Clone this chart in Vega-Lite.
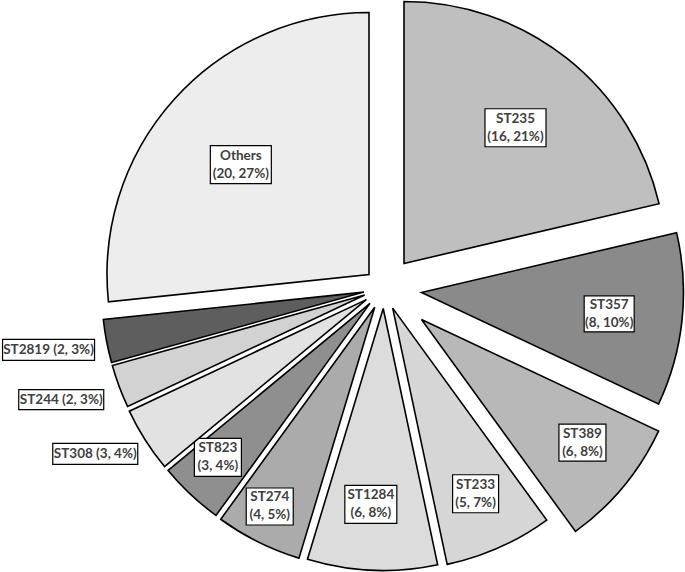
{
  "$schema": "https://vega.github.io/schema/vega-lite/v6.json",
  "autosize": {"type": "fit", "contains": "padding"},
  "width": 685,
  "height": 572,
  "padding": 0,
  "background": "white",
  "view": {"stroke": null},
  "data": {
    "values": [
      {"order": 1, "st": "ST235", "n": 16, "label": "ST235\n(16, 21%)"},
      {"order": 2, "st": "ST357", "n": 8, "label": "ST357\n(8, 10%)"},
      {"order": 3, "st": "ST389", "n": 6, "label": "ST389\n(6, 8%)"},
      {"order": 4, "st": "ST233", "n": 5, "label": "ST233\n(5, 7%)"},
      {"order": 5, "st": "ST1284", "n": 6, "label": "ST1284\n(6, 8%)"},
      {"order": 6, "st": "ST274", "n": 4, "label": "ST274\n(4, 5%)"},
      {"order": 7, "st": "ST823", "n": 3, "label": "ST823\n(3, 4%)"},
      {"order": 8, "st": "ST308", "n": 3, "label": "ST308 (3, 4%)"},
      {"order": 9, "st": "ST244", "n": 2, "label": "ST244 (2, 3%)"},
      {"order": 10, "st": "ST2819", "n": 2, "label": "ST2819 (2, 3%)"},
      {"order": 11, "st": "Others", "n": 20, "label": "Others\n(20, 27%)"}
    ]
  },
  "transform": [
    {"window": [{"op": "sum", "field": "n", "as": "end"}], "sort": [{"field": "order"}], "frame": [null, 0]},
    {"calculate": "datum.end - datum.n", "as": "start"},
    {"calculate": "(datum.start + datum.end) / 2", "as": "mid"}
  ],
  "layer": [
    {
      "transform": [
        {"filter": "datum.st === 'ST235'"},
        {"calculate": "177*sin(datum.mid*PI/37.5+0.016)", "as": "lx"},
        {"calculate": "177*cos(datum.mid*PI/37.5+0.016)", "as": "ly"}
      ],
      "layer": [
        {"mark": {"type": "arc", "radius": 262, "fill": "#bfbfbf", "stroke": "#000", "strokeWidth": 1.6, "xOffset": 61.5, "yOffset": -23},
         "encoding": {"theta": {"field": "start", "type": "quantitative", "scale": {"domain": [0, 75]}}, "theta2": {"field": "end"}}},
        {"mark": {"type": "point", "shape": "M-1,-0.623L1,-0.623L1,0.623L-1,0.623Z", "size": 3721, "filled": true, "fill": "#fff", "stroke": "#000", "strokeWidth": 1.2, "opacity": 1, "xOffset": 61.5, "yOffset": -23},
         "encoding": {"x": {"field": "lx", "type": "quantitative", "scale": {"domain": [-342.5, 342.5], "nice": false, "zero": false}, "axis": null}, "y": {"field": "ly", "type": "quantitative", "scale": {"domain": [-286, 286], "nice": false, "zero": false}, "axis": null}}},
        {"mark": {"type": "text", "font": "Lato", "fontWeight": "bold", "fontSize": 13.5, "lineHeight": 18, "lineBreak": "\n", "align": "center", "baseline": "middle", "dy": -9, "fill": "#404040", "xOffset": 61.5, "yOffset": -23},
         "encoding": {"x": {"field": "lx", "type": "quantitative", "scale": {"domain": [-342.5, 342.5], "nice": false, "zero": false}, "axis": null}, "y": {"field": "ly", "type": "quantitative", "scale": {"domain": [-286, 286], "nice": false, "zero": false}, "axis": null}, "text": {"field": "label"}}}
      ]
    },
    {
      "transform": [
        {"filter": "datum.st === 'ST357'"},
        {"calculate": "190*sin(datum.mid*PI/37.5+0.009)", "as": "lx"},
        {"calculate": "190*cos(datum.mid*PI/37.5+0.009)", "as": "ly"}
      ],
      "layer": [
        {"mark": {"type": "arc", "radius": 262, "fill": "#8a8a8a", "stroke": "#000", "strokeWidth": 1.6, "xOffset": 79, "yOffset": 6},
         "encoding": {"theta": {"field": "start", "type": "quantitative", "scale": {"domain": [0, 75]}}, "theta2": {"field": "end"}}},
        {"mark": {"type": "point", "shape": "M-1,-0.72L1,-0.72L1,0.72L-1,0.72Z", "size": 2500, "filled": true, "fill": "#fff", "stroke": "#000", "strokeWidth": 1.2, "opacity": 1, "xOffset": 79, "yOffset": 6},
         "encoding": {"x": {"field": "lx", "type": "quantitative", "scale": {"domain": [-342.5, 342.5], "nice": false, "zero": false}, "axis": null}, "y": {"field": "ly", "type": "quantitative", "scale": {"domain": [-286, 286], "nice": false, "zero": false}, "axis": null}}},
        {"mark": {"type": "text", "font": "Lato", "fontWeight": "bold", "fontSize": 13.5, "lineHeight": 18, "lineBreak": "\n", "align": "center", "baseline": "middle", "dy": -9, "fill": "#404040", "xOffset": 79, "yOffset": 6},
         "encoding": {"x": {"field": "lx", "type": "quantitative", "scale": {"domain": [-342.5, 342.5], "nice": false, "zero": false}, "axis": null}, "y": {"field": "ly", "type": "quantitative", "scale": {"domain": [-286, 286], "nice": false, "zero": false}, "axis": null}, "text": {"field": "label"}}}
      ]
    },
    {
      "transform": [
        {"filter": "datum.st === 'ST389'"},
        {"calculate": "204*sin(datum.mid*PI/37.5-0.037)", "as": "lx"},
        {"calculate": "204*cos(datum.mid*PI/37.5-0.037)", "as": "ly"}
      ],
      "layer": [
        {"mark": {"type": "arc", "radius": 262, "fill": "#b8b8b8", "stroke": "#000", "strokeWidth": 1.6, "xOffset": 79, "yOffset": 33},
         "encoding": {"theta": {"field": "start", "type": "quantitative", "scale": {"domain": [0, 75]}}, "theta2": {"field": "end"}}},
        {"mark": {"type": "point", "shape": "M-1,-0.787L1,-0.787L1,0.787L-1,0.787Z", "size": 2209, "filled": true, "fill": "#fff", "stroke": "#000", "strokeWidth": 1.2, "opacity": 1, "xOffset": 79, "yOffset": 33},
         "encoding": {"x": {"field": "lx", "type": "quantitative", "scale": {"domain": [-342.5, 342.5], "nice": false, "zero": false}, "axis": null}, "y": {"field": "ly", "type": "quantitative", "scale": {"domain": [-286, 286], "nice": false, "zero": false}, "axis": null}}},
        {"mark": {"type": "text", "font": "Lato", "fontWeight": "bold", "fontSize": 13.5, "lineHeight": 18, "lineBreak": "\n", "align": "center", "baseline": "middle", "dy": -9, "fill": "#404040", "xOffset": 79, "yOffset": 33},
         "encoding": {"x": {"field": "lx", "type": "quantitative", "scale": {"domain": [-342.5, 342.5], "nice": false, "zero": false}, "axis": null}, "y": {"field": "ly", "type": "quantitative", "scale": {"domain": [-286, 286], "nice": false, "zero": false}, "axis": null}, "text": {"field": "label"}}}
      ]
    },
    {
      "transform": [
        {"filter": "datum.st === 'ST233'"},
        {"calculate": "205*sin(datum.mid*PI/37.5)", "as": "lx"},
        {"calculate": "205*cos(datum.mid*PI/37.5)", "as": "ly"}
      ],
      "layer": [
        {"mark": {"type": "arc", "radius": 262, "fill": "#d6d6d6", "stroke": "#000", "strokeWidth": 1.6, "xOffset": 50.2, "yOffset": 21.6},
         "encoding": {"theta": {"field": "start", "type": "quantitative", "scale": {"domain": [0, 75]}}, "theta2": {"field": "end"}}},
        {"mark": {"type": "point", "shape": "M-1,-0.826L1,-0.826L1,0.826L-1,0.826Z", "size": 2116, "filled": true, "fill": "#fff", "stroke": "#000", "strokeWidth": 1.2, "opacity": 1, "xOffset": 50.2, "yOffset": 21.6},
         "encoding": {"x": {"field": "lx", "type": "quantitative", "scale": {"domain": [-342.5, 342.5], "nice": false, "zero": false}, "axis": null}, "y": {"field": "ly", "type": "quantitative", "scale": {"domain": [-286, 286], "nice": false, "zero": false}, "axis": null}}},
        {"mark": {"type": "text", "font": "Lato", "fontWeight": "bold", "fontSize": 13.5, "lineHeight": 18, "lineBreak": "\n", "align": "center", "baseline": "middle", "dy": -9, "fill": "#404040", "xOffset": 50.2, "yOffset": 21.6},
         "encoding": {"x": {"field": "lx", "type": "quantitative", "scale": {"domain": [-342.5, 342.5], "nice": false, "zero": false}, "axis": null}, "y": {"field": "ly", "type": "quantitative", "scale": {"domain": [-286, 286], "nice": false, "zero": false}, "axis": null}, "text": {"field": "label"}}}
      ]
    },
    {
      "transform": [
        {"filter": "datum.st === 'ST1284'"},
        {"calculate": "198*sin(datum.mid*PI/37.5+0.021)", "as": "lx"},
        {"calculate": "198*cos(datum.mid*PI/37.5+0.021)", "as": "ly"}
      ],
      "layer": [
        {"mark": {"type": "arc", "radius": 262, "fill": "#dcdcdc", "stroke": "#000", "strokeWidth": 1.6, "xOffset": 40.7, "yOffset": 22},
         "encoding": {"theta": {"field": "start", "type": "quantitative", "scale": {"domain": [0, 75]}}, "theta2": {"field": "end"}}},
        {"mark": {"type": "point", "shape": "M-1,-0.731L1,-0.731L1,0.731L-1,0.731Z", "size": 2704, "filled": true, "fill": "#fff", "stroke": "#000", "strokeWidth": 1.2, "opacity": 1, "xOffset": 40.7, "yOffset": 22},
         "encoding": {"x": {"field": "lx", "type": "quantitative", "scale": {"domain": [-342.5, 342.5], "nice": false, "zero": false}, "axis": null}, "y": {"field": "ly", "type": "quantitative", "scale": {"domain": [-286, 286], "nice": false, "zero": false}, "axis": null}}},
        {"mark": {"type": "text", "font": "Lato", "fontWeight": "bold", "fontSize": 13.5, "lineHeight": 18, "lineBreak": "\n", "align": "center", "baseline": "middle", "dy": -9, "fill": "#404040", "xOffset": 40.7, "yOffset": 22},
         "encoding": {"x": {"field": "lx", "type": "quantitative", "scale": {"domain": [-342.5, 342.5], "nice": false, "zero": false}, "axis": null}, "y": {"field": "ly", "type": "quantitative", "scale": {"domain": [-286, 286], "nice": false, "zero": false}, "axis": null}, "text": {"field": "label"}}}
      ]
    },
    {
      "transform": [
        {"filter": "datum.st === 'ST274'"},
        {"calculate": "227*sin(datum.mid*PI/37.5+0.023)", "as": "lx"},
        {"calculate": "227*cos(datum.mid*PI/37.5+0.023)", "as": "ly"}
      ],
      "layer": [
        {"mark": {"type": "arc", "radius": 262, "fill": "#ababab", "stroke": "#000", "strokeWidth": 1.6, "xOffset": 32.2, "yOffset": 20.8},
         "encoding": {"theta": {"field": "start", "type": "quantitative", "scale": {"domain": [0, 75]}}, "theta2": {"field": "end"}}},
        {"mark": {"type": "point", "shape": "M-1,-0.787L1,-0.787L1,0.787L-1,0.787Z", "size": 2209, "filled": true, "fill": "#fff", "stroke": "#000", "strokeWidth": 1.2, "opacity": 1, "xOffset": 32.2, "yOffset": 20.8},
         "encoding": {"x": {"field": "lx", "type": "quantitative", "scale": {"domain": [-342.5, 342.5], "nice": false, "zero": false}, "axis": null}, "y": {"field": "ly", "type": "quantitative", "scale": {"domain": [-286, 286], "nice": false, "zero": false}, "axis": null}}},
        {"mark": {"type": "text", "font": "Lato", "fontWeight": "bold", "fontSize": 13.5, "lineHeight": 18, "lineBreak": "\n", "align": "center", "baseline": "middle", "dy": -9, "fill": "#404040", "xOffset": 32.2, "yOffset": 20.8},
         "encoding": {"x": {"field": "lx", "type": "quantitative", "scale": {"domain": [-342.5, 342.5], "nice": false, "zero": false}, "axis": null}, "y": {"field": "ly", "type": "quantitative", "scale": {"domain": [-286, 286], "nice": false, "zero": false}, "axis": null}, "text": {"field": "label"}}}
      ]
    },
    {
      "transform": [
        {"filter": "datum.st === 'ST823'"},
        {"calculate": "218*sin(datum.mid*PI/37.5+0.024)", "as": "lx"},
        {"calculate": "218*cos(datum.mid*PI/37.5+0.024)", "as": "ly"}
      ],
      "layer": [
        {"mark": {"type": "arc", "radius": 262, "fill": "#8f8f8f", "stroke": "#000", "strokeWidth": 1.6, "xOffset": 27.5, "yOffset": 16.9},
         "encoding": {"theta": {"field": "start", "type": "quantitative", "scale": {"domain": [0, 75]}}, "theta2": {"field": "end"}}},
        {"mark": {"type": "point", "shape": "M-1,-0.809L1,-0.809L1,0.809L-1,0.809Z", "size": 2209, "filled": true, "fill": "#fff", "stroke": "#000", "strokeWidth": 1.2, "opacity": 1, "xOffset": 27.5, "yOffset": 16.9},
         "encoding": {"x": {"field": "lx", "type": "quantitative", "scale": {"domain": [-342.5, 342.5], "nice": false, "zero": false}, "axis": null}, "y": {"field": "ly", "type": "quantitative", "scale": {"domain": [-286, 286], "nice": false, "zero": false}, "axis": null}}},
        {"mark": {"type": "text", "font": "Lato", "fontWeight": "bold", "fontSize": 13.5, "lineHeight": 18, "lineBreak": "\n", "align": "center", "baseline": "middle", "dy": -9, "fill": "#404040", "xOffset": 27.5, "yOffset": 16.9},
         "encoding": {"x": {"field": "lx", "type": "quantitative", "scale": {"domain": [-342.5, 342.5], "nice": false, "zero": false}, "axis": null}, "y": {"field": "ly", "type": "quantitative", "scale": {"domain": [-286, 286], "nice": false, "zero": false}, "axis": null}, "text": {"field": "label"}}}
      ]
    },
    {
      "transform": [
        {"filter": "datum.st === 'ST308'"},
        {"calculate": "314*sin(datum.mid*PI/37.5+0.047)", "as": "lx"},
        {"calculate": "314*cos(datum.mid*PI/37.5+0.047)", "as": "ly"}
      ],
      "layer": [
        {"mark": {"type": "arc", "radius": 262, "fill": "#e2e2e2", "stroke": "#000", "strokeWidth": 1.6, "xOffset": 23.9, "yOffset": 13.1},
         "encoding": {"theta": {"field": "start", "type": "quantitative", "scale": {"domain": [0, 75]}}, "theta2": {"field": "end"}}},
        {"mark": {"type": "point", "shape": "M-1,-0.247L1,-0.247L1,0.247L-1,0.247Z", "size": 7225, "filled": true, "fill": "#fff", "stroke": "#000", "strokeWidth": 1.2, "opacity": 1, "xOffset": 23.9, "yOffset": 13.1},
         "encoding": {"x": {"field": "lx", "type": "quantitative", "scale": {"domain": [-342.5, 342.5], "nice": false, "zero": false}, "axis": null}, "y": {"field": "ly", "type": "quantitative", "scale": {"domain": [-286, 286], "nice": false, "zero": false}, "axis": null}}},
        {"mark": {"type": "text", "font": "Lato", "fontWeight": "bold", "fontSize": 13.5, "lineHeight": 18, "lineBreak": "\n", "align": "center", "baseline": "middle", "fill": "#404040", "xOffset": 23.9, "yOffset": 13.1},
         "encoding": {"x": {"field": "lx", "type": "quantitative", "scale": {"domain": [-342.5, 342.5], "nice": false, "zero": false}, "axis": null}, "y": {"field": "ly", "type": "quantitative", "scale": {"domain": [-286, 286], "nice": false, "zero": false}, "axis": null}, "text": {"field": "label"}}}
      ]
    },
    {
      "transform": [
        {"filter": "datum.st === 'ST244'"},
        {"calculate": "323*sin(datum.mid*PI/37.5+0.023)", "as": "lx"},
        {"calculate": "323*cos(datum.mid*PI/37.5+0.023)", "as": "ly"}
      ],
      "layer": [
        {"mark": {"type": "arc", "radius": 262, "fill": "#d2d2d2", "stroke": "#000", "strokeWidth": 1.6, "xOffset": 22.2, "yOffset": 8.5},
         "encoding": {"theta": {"field": "start", "type": "quantitative", "scale": {"domain": [0, 75]}}, "theta2": {"field": "end"}}},
        {"mark": {"type": "point", "shape": "M-1,-0.235L1,-0.235L1,0.235L-1,0.235Z", "size": 7225, "filled": true, "fill": "#fff", "stroke": "#000", "strokeWidth": 1.2, "opacity": 1, "xOffset": 22.2, "yOffset": 8.5},
         "encoding": {"x": {"field": "lx", "type": "quantitative", "scale": {"domain": [-342.5, 342.5], "nice": false, "zero": false}, "axis": null}, "y": {"field": "ly", "type": "quantitative", "scale": {"domain": [-286, 286], "nice": false, "zero": false}, "axis": null}}},
        {"mark": {"type": "text", "font": "Lato", "fontWeight": "bold", "fontSize": 13.5, "lineHeight": 18, "lineBreak": "\n", "align": "center", "baseline": "middle", "fill": "#404040", "xOffset": 22.2, "yOffset": 8.5},
         "encoding": {"x": {"field": "lx", "type": "quantitative", "scale": {"domain": [-342.5, 342.5], "nice": false, "zero": false}, "axis": null}, "y": {"field": "ly", "type": "quantitative", "scale": {"domain": [-286, 286], "nice": false, "zero": false}, "axis": null}, "text": {"field": "label"}}}
      ]
    },
    {
      "transform": [
        {"filter": "datum.st === 'ST2819'"},
        {"calculate": "322.5*sin(datum.mid*PI/37.5+0.007)", "as": "lx"},
        {"calculate": "322.5*cos(datum.mid*PI/37.5+0.007)", "as": "ly"}
      ],
      "layer": [
        {"mark": {"type": "arc", "radius": 262, "fill": "#5e5e5e", "stroke": "#000", "strokeWidth": 1.6, "xOffset": 21.4, "yOffset": 5.6},
         "encoding": {"theta": {"field": "start", "type": "quantitative", "scale": {"domain": [0, 75]}}, "theta2": {"field": "end"}}},
        {"mark": {"type": "point", "shape": "M-1,-0.228L1,-0.228L1,0.228L-1,0.228Z", "size": 8464, "filled": true, "fill": "#fff", "stroke": "#000", "strokeWidth": 1.2, "opacity": 1, "xOffset": 21.4, "yOffset": 5.6},
         "encoding": {"x": {"field": "lx", "type": "quantitative", "scale": {"domain": [-342.5, 342.5], "nice": false, "zero": false}, "axis": null}, "y": {"field": "ly", "type": "quantitative", "scale": {"domain": [-286, 286], "nice": false, "zero": false}, "axis": null}}},
        {"mark": {"type": "text", "font": "Lato", "fontWeight": "bold", "fontSize": 13.5, "lineHeight": 18, "lineBreak": "\n", "align": "center", "baseline": "middle", "fill": "#404040", "xOffset": 21.4, "yOffset": 5.6},
         "encoding": {"x": {"field": "lx", "type": "quantitative", "scale": {"domain": [-342.5, 342.5], "nice": false, "zero": false}, "axis": null}, "y": {"field": "ly", "type": "quantitative", "scale": {"domain": [-286, 286], "nice": false, "zero": false}, "axis": null}, "text": {"field": "label"}}}
      ]
    },
    {
      "transform": [
        {"filter": "datum.st === 'Others'"},
        {"calculate": "170*sin(datum.mid*PI/37.5-0.023)", "as": "lx"},
        {"calculate": "170*cos(datum.mid*PI/37.5-0.023)", "as": "ly"}
      ],
      "layer": [
        {"mark": {"type": "arc", "radius": 262, "fill": "#ededed", "stroke": "#000", "strokeWidth": 1.6, "xOffset": 26.5, "yOffset": -12},
         "encoding": {"theta": {"field": "start", "type": "quantitative", "scale": {"domain": [0, 75]}}, "theta2": {"field": "end"}}},
        {"mark": {"type": "point", "shape": "M-1,-0.623L1,-0.623L1,0.623L-1,0.623Z", "size": 3721, "filled": true, "fill": "#fff", "stroke": "#000", "strokeWidth": 1.2, "opacity": 1, "xOffset": 26.5, "yOffset": -12},
         "encoding": {"x": {"field": "lx", "type": "quantitative", "scale": {"domain": [-342.5, 342.5], "nice": false, "zero": false}, "axis": null}, "y": {"field": "ly", "type": "quantitative", "scale": {"domain": [-286, 286], "nice": false, "zero": false}, "axis": null}}},
        {"mark": {"type": "text", "font": "Lato", "fontWeight": "bold", "fontSize": 13.5, "lineHeight": 18, "lineBreak": "\n", "align": "center", "baseline": "middle", "dy": -9, "fill": "#404040", "xOffset": 26.5, "yOffset": -12},
         "encoding": {"x": {"field": "lx", "type": "quantitative", "scale": {"domain": [-342.5, 342.5], "nice": false, "zero": false}, "axis": null}, "y": {"field": "ly", "type": "quantitative", "scale": {"domain": [-286, 286], "nice": false, "zero": false}, "axis": null}, "text": {"field": "label"}}}
      ]
    }
  ]
}
